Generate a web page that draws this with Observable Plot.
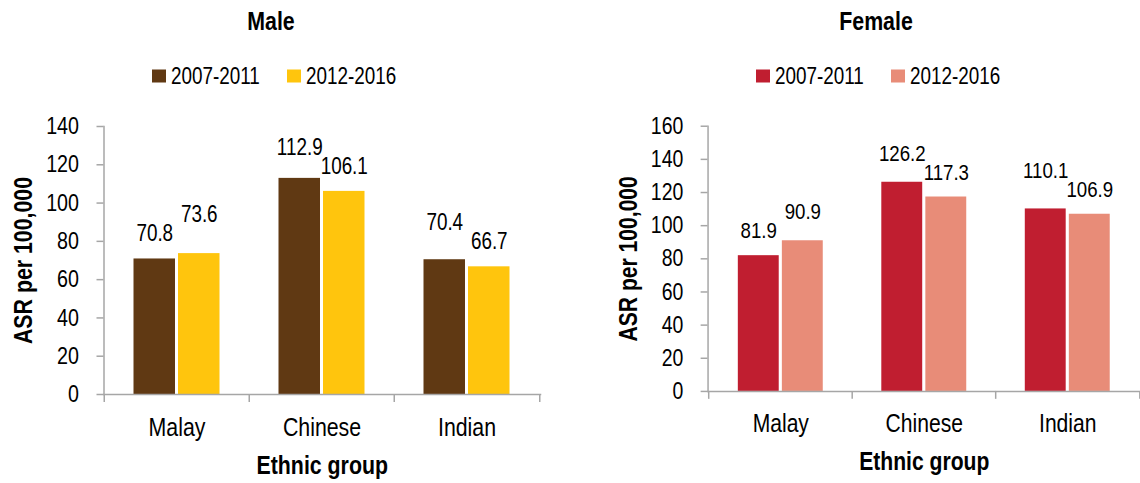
<!DOCTYPE html>
<html><head><meta charset="utf-8">
<script src="https://cdn.jsdelivr.net/npm/d3@7"></script>
<script src="https://cdn.jsdelivr.net/npm/@observablehq/plot@0.6"></script>
<style>
html,body{margin:0;padding:0;background:#fff;overflow:hidden;}
#root{position:relative;width:1140px;height:483px;overflow:hidden;font-family:"Liberation Sans",Arial,sans-serif;color:#000;}
.title{position:absolute;top:20.5px;transform:translate(-50%,-50%) scaleX(0.82);font-weight:bold;font-size:26px;white-space:nowrap;line-height:1;}
.leg{position:absolute;top:76px;transform:translateY(-50%);display:flex;align-items:center;font-size:23px;white-space:nowrap;line-height:1;}
.leg .txt{display:inline-block;transform:scaleX(0.82);transform-origin:0 50%;}
.sw{width:13.5px;height:13.5px;margin-right:5px;display:inline-block;flex:none;}
.panel{position:absolute;top:100px;}
svg g[aria-label="x-axis label"] text, svg g[aria-label="y-axis label"] text{font-weight:bold;font-size:26px;}
</style>
</head><body>
<div id="root"></div>
<script>
const categories = ["Malay", "Chinese", "Indian"];
const periods = ["2007-2011", "2012-2016"];
const maleEarly = [70.8, 112.9, 70.4];
const maleLate = [73.6, 106.1, 66.7];
const femaleEarly = [81.9, 126.2, 110.1];
const femaleLate = [90.9, 117.3, 106.9];
const maleTicks = [0, 20, 40, 60, 80, 100, 120, 140];
const femaleTicks = [0, 20, 40, 60, 80, 100, 120, 140, 160];
const panelTitles = ["Male", "Female"];
const xLabel = "Ethnic group";
const yLabel = "ASR per 100,000";
const maleColors = ["#603913", "#FFC50D"];
const femaleColors = ["#C01E30", "#E88C78"];

const FONT = '"Liberation Sans",Arial,sans-serif';
const NARROW = 0.82;
const GRAY = "#a6a6a6";
const root = document.getElementById("root");

function narrowTexts(svg) {
  svg.querySelectorAll("text").forEach(el => {
    const len = el.getComputedTextLength();
    if (len > 0) {
      el.setAttribute("textLength", (len * NARROW).toFixed(2));
      el.setAttribute("lengthAdjust", "spacingAndGlyphs");
    }
  });
}

function makePanel({left, width, marginLeft, marginRight, ticks, early, late, colors, title, titleX, legX}) {
  const height = 383, marginTop = 26, marginBottom = 89;
  const bw = (width - marginLeft - marginRight) / categories.length;
  const barW = 42, gap = 2.5;
  const pad = (bw - 2 * barW - gap) / 2;
  const yMax = d3.max(ticks);
  const pxPerUnit = (height - marginTop - marginBottom) / yMax;
  const labelGap = 25, labelSep = 19;
  const rowsE = categories.map((c, i) => ({cat: c, period: periods[0], value: early[i]}));
  const rowsL = categories.map((c, i) => ({cat: c, period: periods[1], value: late[i]}));
  // label anchor (data units): lift the taller bar's label so the pair of labels do not collide
  categories.forEach((c, i) => {
    const a = rowsE[i], b = rowsL[i];
    const [tall, short] = a.value >= b.value ? [a, b] : [b, a];
    short.labelY = short.value;
    tall.labelY = Math.max(tall.value, short.value + labelSep / pxPerUnit);
  });

  const t = document.createElement("div");
  t.className = "title"; t.style.left = titleX + "px"; t.textContent = title;
  root.appendChild(t);
  periods.forEach((p, i) => {
    const l = document.createElement("div");
    l.className = "leg"; l.style.left = legX[i] + "px";
    const s = document.createElement("span");
    s.className = "sw"; s.style.background = colors[i];
    const tx = document.createElement("span");
    tx.className = "txt"; tx.textContent = p;
    l.appendChild(s); l.appendChild(tx);
    root.appendChild(l);
  });

  const chart = Plot.plot({
    width, height, marginTop, marginBottom, marginLeft, marginRight,
    style: {fontFamily: FONT, fontSize: "24px", color: "#000", background: "transparent", overflow: "visible"},
    x: {domain: categories, padding: 0},
    y: {domain: [0, yMax]},
    color: {domain: periods, range: colors},
    marks: [
      Plot.barY(rowsE, {x: "cat", y: "value", fill: "period", insetLeft: pad, insetRight: bw - pad - barW}),
      Plot.barY(rowsL, {x: "cat", y: "value", fill: "period", insetLeft: pad + barW + gap, insetRight: pad}),
      Plot.frame({anchor: "left", stroke: GRAY, strokeWidth: 1.5}),
      Plot.frame({anchor: "bottom", stroke: GRAY, strokeWidth: 1.5}),
      Plot.axisY({ticks, tickSize: 7, tickPadding: 18, stroke: GRAY, strokeWidth: 1.5, fontSize: 24,
        label: yLabel, labelAnchor: "center", labelOffset: 90, labelArrow: "none"}),
      Plot.axisX({tickSize: 8, tickFormat: () => "", dx: -bw / 2, stroke: GRAY, strokeWidth: 1.5, label: null}),
      Plot.axisX({ticks: [categories[categories.length - 1]], tickSize: 8, tickFormat: () => "", dx: bw / 2, stroke: GRAY, strokeWidth: 1.5, label: null}),
      Plot.axisX({tickSize: 0, tickPadding: 23, fontSize: 26, label: xLabel, labelAnchor: "center", labelOffset: 79, labelArrow: "none"}),
      Plot.text(rowsE, {x: "cat", y: "labelY", text: d => d.value.toFixed(1), dx: -(barW + gap) / 2, dy: -labelGap, fontSize: 23}),
      Plot.text(rowsL, {x: "cat", y: "labelY", text: d => d.value.toFixed(1), dx: (barW + gap) / 2, dy: -labelGap, fontSize: 23})
    ]
  });
  const wrap = document.createElement("div");
  wrap.className = "panel"; wrap.style.left = left + "px";
  wrap.appendChild(chart);
  root.appendChild(wrap);
  narrowTexts(chart);
}

makePanel({left: 0, width: 570, marginLeft: 103.5, marginRight: 30, ticks: maleTicks,
  early: maleEarly, late: maleLate, colors: maleColors, title: panelTitles[0], titleX: 271, legX: [152, 287]});
makePanel({left: 570, width: 576, marginLeft: 139, marginRight: 0, ticks: femaleTicks,
  early: femaleEarly, late: femaleLate, colors: femaleColors, title: panelTitles[1], titleX: 876, legX: [756, 891]});
</script>
</body></html>
